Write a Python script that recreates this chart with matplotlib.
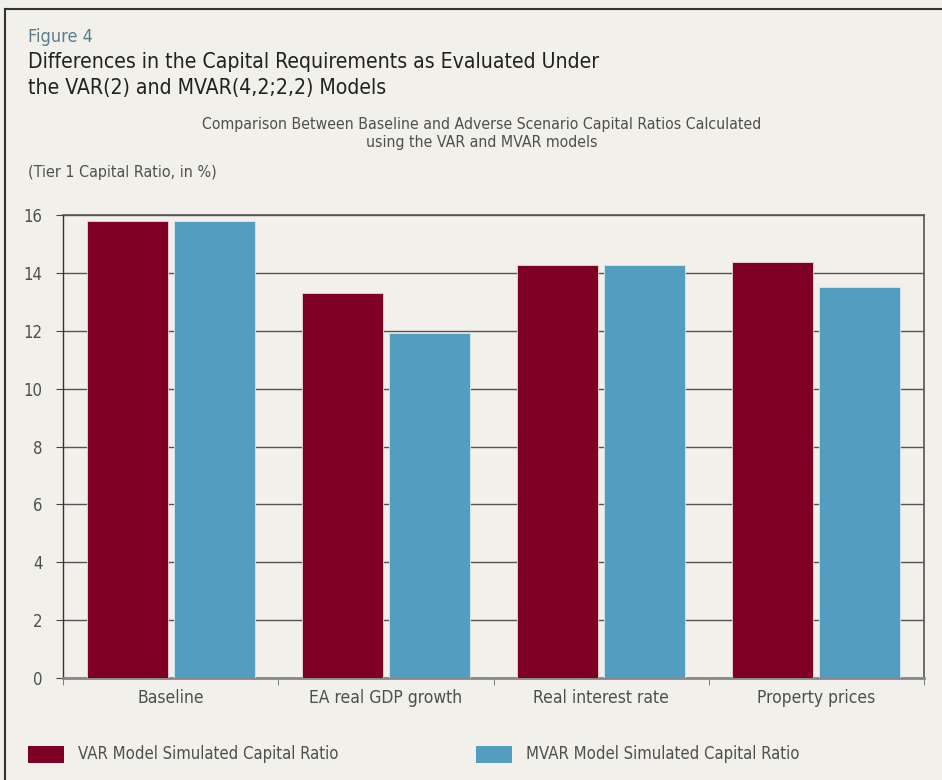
import numpy as np
import matplotlib.pyplot as plt
from matplotlib.patches import Rectangle
from matplotlib.lines import Line2D

# Data
categories = ['Baseline', 'EA real GDP growth', 'Real interest rate', 'Property prices']
var_values = [15.8, 13.3, 14.27, 14.37]
mvar_values = [15.8, 11.92, 14.27, 13.52]
series_names = ['VAR Model Simulated Capital Ratio', 'MVAR Model Simulated Capital Ratio']
yticks = [0, 2, 4, 6, 8, 10, 12, 14, 16]

bg = '#f1f0ea'
red = '#7f0022'
blue = '#539dc0'
txt = '#4f4f4f'

plt.rcParams['font.family'] = ['DejaVu Sans']
plt.rcParams['font.stretch'] = 'condensed'

fig = plt.figure(figsize=(9.42, 7.8), dpi=100, facecolor=bg)
ax = fig.add_axes([0.0672, 0.1304, 0.9134, 0.5943])
ax.set_facecolor(bg)

x = np.arange(len(categories))
w = 0.376
ax.bar(x - 0.203, var_values, w, color=red, edgecolor='#e8d8dc', linewidth=0.6, zorder=3)
ax.bar(x + 0.203, mvar_values, w, color=blue, edgecolor='#d8e8f0', linewidth=0.6, zorder=3)

ax.set_xlim(-0.5, len(categories) - 0.5)
ax.set_ylim(0, 16)
ax.set_yticks(yticks)
ax.set_yticklabels([str(t) for t in yticks], fontsize=12, color=txt)
ax.yaxis.grid(True, color='#555555', linewidth=1.0, zorder=0)

ax.set_xticks(x)
ax.set_xticklabels(categories, fontsize=12.5, color=txt)
ax.tick_params(axis='x', length=0, pad=8)
ax.set_xticks(np.arange(len(categories) + 1) - 0.5, minor=True)
ax.tick_params(axis='x', which='minor', length=5, color='#666666', direction='out')
ax.tick_params(axis='y', length=5, color='#444444', pad=10)

for s in ['top', 'right']:
    ax.spines[s].set_color('#555555')
    ax.spines[s].set_linewidth(1.2)
ax.spines['left'].set_color('#333333')
ax.spines['left'].set_linewidth(1.0)
ax.spines['bottom'].set_color('#888888')
ax.spines['bottom'].set_linewidth(2.0)

# Frame around panel
fig.add_artist(Line2D([5 / 942, 1.0], [1 - 9 / 780, 1 - 9 / 780], color='#333333', linewidth=1.5))
fig.add_artist(Line2D([5 / 942, 5 / 942], [1 - 9 / 780, 0.0], color='#333333', linewidth=1.5))

# Titles
fig.text(28 / 942, 1 - 37 / 780, 'Figure 4', fontsize=13, color='#5c7d8c', va='center')
fig.text(28 / 942, 1 - 62 / 780, 'Differences in the Capital Requirements as Evaluated Under',
         fontsize=15.2, color='#222222', va='center')
fig.text(28 / 942, 1 - 88 / 780, 'the VAR(2) and MVAR(4,2;2,2) Models',
         fontsize=15.2, color='#222222', va='center')
fig.text(482 / 942, 1 - 124 / 780, 'Comparison Between Baseline and Adverse Scenario Capital Ratios Calculated',
         fontsize=11.3, color=txt, va='center', ha='center')
fig.text(482 / 942, 1 - 143 / 780, 'using the VAR and MVAR models',
         fontsize=11.3, color=txt, va='center', ha='center')
fig.text(28 / 942, 1 - 172 / 780, '(Tier 1 Capital Ratio, in %)', fontsize=11.5, color=txt, va='center')

# Legend
for px, col, name in [(28, red, series_names[0]), (476, blue, series_names[1])]:
    fig.add_artist(Rectangle((px / 942, 1 - 763 / 780), 36 / 942, 17 / 780,
                             transform=fig.transFigure, facecolor=col, edgecolor='none'))
    fig.text((px + 50) / 942, 1 - 754 / 780, name, fontsize=12, color=txt, va='center')

fig.savefig('out.png', dpi=100, facecolor=bg)
